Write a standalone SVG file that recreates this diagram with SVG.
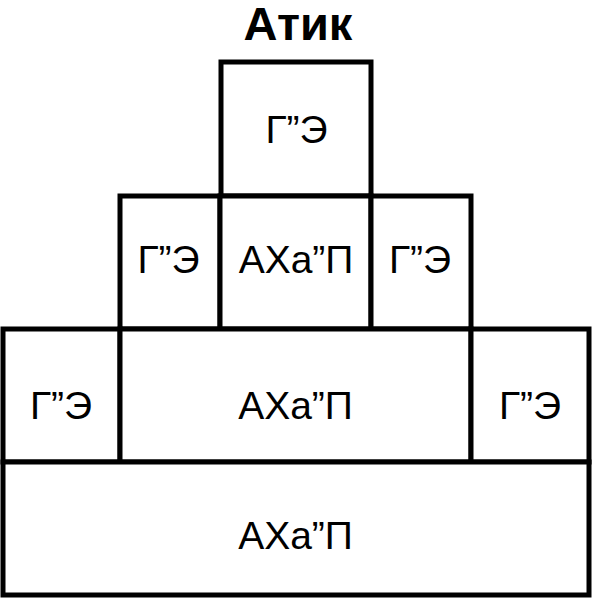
<svg xmlns="http://www.w3.org/2000/svg" width="595" height="600" viewBox="0 0 595 600">
<style>
.c{fill:#fff;stroke:#000;stroke-width:5}
.t{font-family:"Liberation Sans",Arial,sans-serif;font-size:39px;text-anchor:middle;fill:#000}
.h{font-family:"Liberation Sans",Arial,sans-serif;font-size:47px;font-weight:bold;text-anchor:middle;fill:#000}
</style>
<rect width="595" height="600" fill="#fff"/>
<text class="h" x="298" y="40">Атик</text>
<g id="top"><rect class="c" x="221" y="62" width="150" height="134"/><text class="t" x="296.5" y="143">Г”Э</text></g>
<g id="r2-left"><rect class="c" x="120" y="196" width="100" height="133"/><text class="t" x="168.5" y="273">Г”Э</text></g>
<g id="r2-mid"><rect class="c" x="220" y="196" width="151" height="133"/><text class="t" x="296" y="273">АХа”П</text></g>
<g id="r2-right"><rect class="c" x="371" y="196" width="100" height="133"/><text class="t" x="420" y="273">Г”Э</text></g>
<g id="r3-left"><rect class="c" x="3" y="329" width="117" height="133"/><text class="t" x="61" y="419">Г”Э</text></g>
<g id="r3-mid"><rect class="c" x="120" y="329" width="351" height="133"/><text class="t" x="295.5" y="419">АХа”П</text></g>
<g id="r3-right"><rect class="c" x="471" y="329" width="118" height="133"/><text class="t" x="530" y="419">Г”Э</text></g>
<g id="bottom"><rect class="c" x="3" y="462" width="586" height="133"/><text class="t" x="295.5" y="549">АХа”П</text></g>
<g id="connectors"/>
</svg>
